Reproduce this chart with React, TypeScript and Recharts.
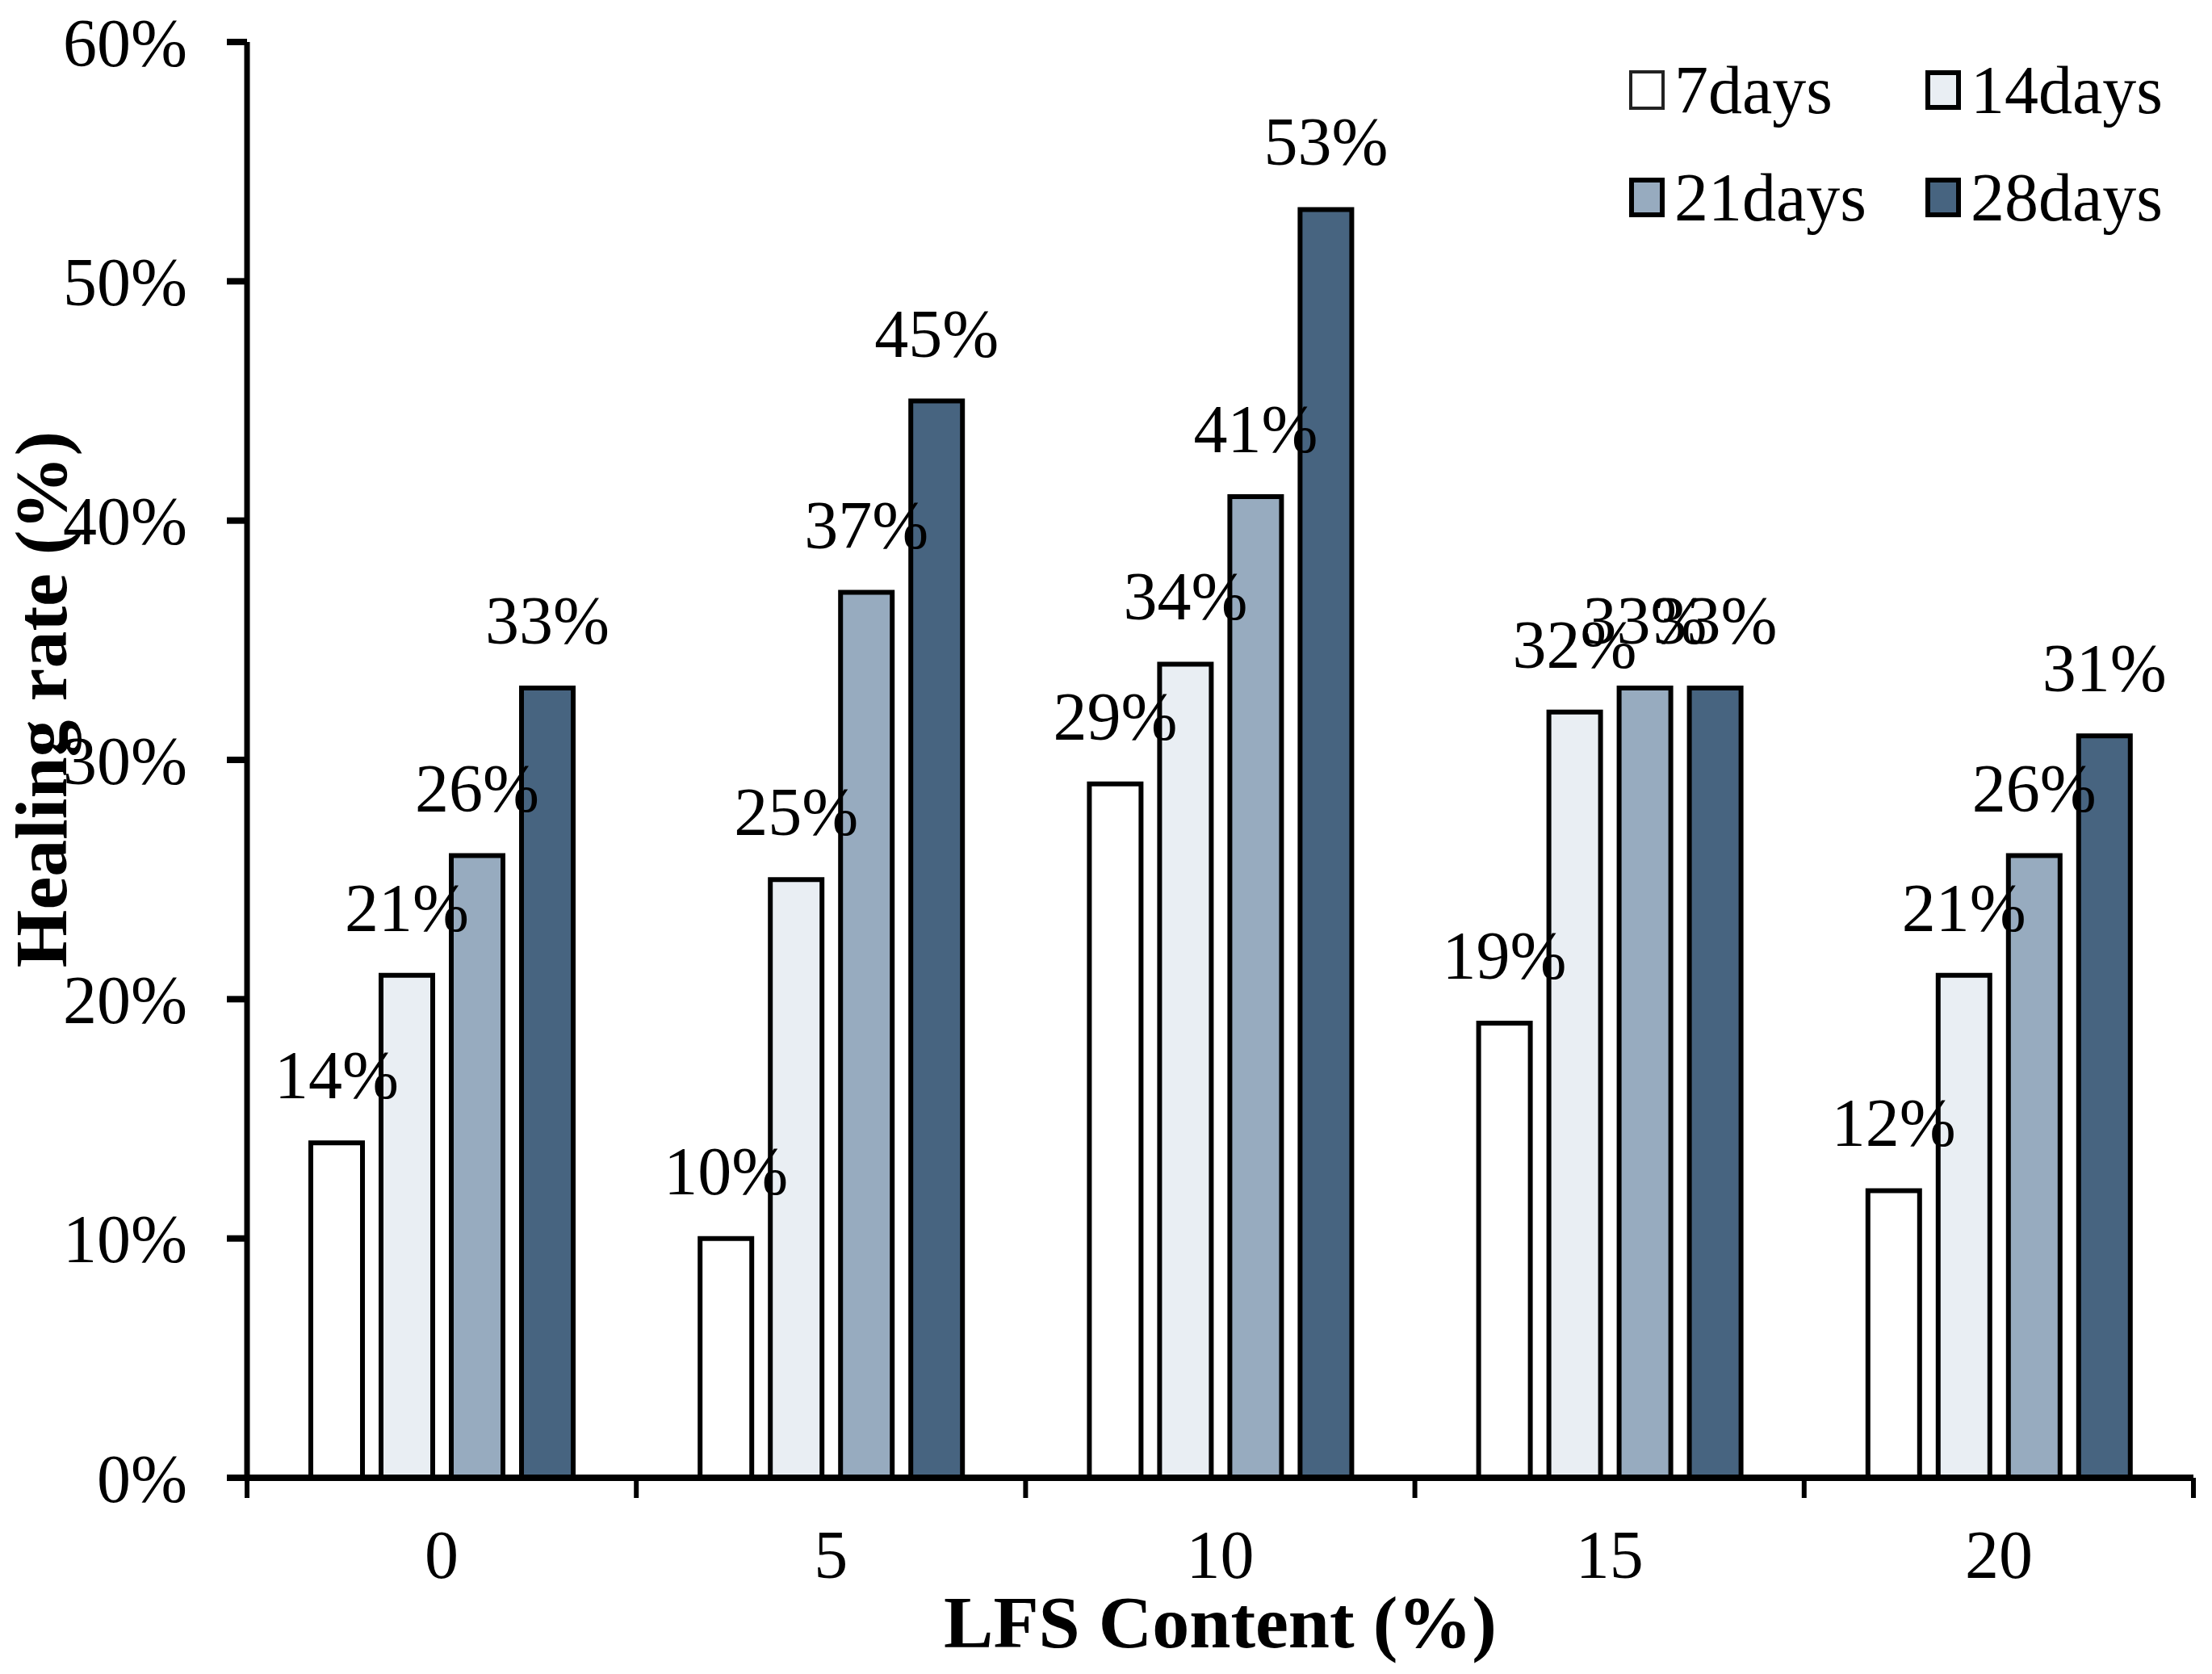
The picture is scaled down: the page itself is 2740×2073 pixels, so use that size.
import { BarChart, Bar, XAxis, YAxis, Legend, LabelList } from 'recharts'

const CATEGORIES = ['0', '5', '10', '15', '20']
const DAYS_7 = [0.14, 0.10, 0.29, 0.19, 0.12]
const DAYS_14 = [0.21, 0.25, 0.34, 0.32, 0.21]
const DAYS_21 = [0.26, 0.37, 0.41, 0.33, 0.26]
const DAYS_28 = [0.33, 0.45, 0.53, 0.33, 0.31]
const SERIES_KEYS = ['d7', 'd14', 'd21', 'd28']
const SERIES_NAMES = ['7days', '14days', '21days', '28days']
const SERIES_COLORS = ['#FFFFFF', '#E9EEF3', '#97ABBF', '#476480']
const Y_TICKS = [0, 0.1, 0.2, 0.3, 0.4, 0.5, 0.6]

const data = CATEGORIES.map((c, i) => ({
  content: c,
  d7: DAYS_7[i],
  d14: DAYS_14[i],
  d21: DAYS_21[i],
  d28: DAYS_28[i],
}))

const FONT = '"Liberation Serif", "Times New Roman", serif'
const pct = (v: number) => `${Math.round(v * 100)}%`

// category label in the middle of the band, tick marks on the band edges
function CategoryTick(props: any) {
  const { x, y, payload, index, visibleTicksCount } = props
  const half = payload?.offset ?? 0
  const last = index === (visibleTicksCount ?? CATEGORIES.length) - 1
  return (
    <g>
      <line x1={x - half} x2={x - half} y1={y} y2={y + 25} stroke="#000" strokeWidth={6} />
      {last && <line x1={x + half} x2={x + half} y1={y} y2={y + 25} stroke="#000" strokeWidth={6} />}
      <text x={x} y={y + 95} dy="0.35em" textAnchor="middle" fontSize={84} fontFamily={FONT} fill="#000">
        {payload.value}
      </text>
    </g>
  )
}

function YTitle(props: any) {
  const { viewBox } = props
  const cx = 50
  const cy = viewBox.y + viewBox.height / 2 - 75
  return (
    <text
      x={cx}
      y={cy}
      dy="0.35em"
      textAnchor="middle"
      fontSize={92}
      fontWeight="bold"
      fontFamily={FONT}
      transform={`rotate(-90, ${cx}, ${cy})`}
    >
      Healing rate (%)
    </text>
  )
}

function XTitle(props: any) {
  const { viewBox } = props
  return (
    <text
      x={viewBox.x + viewBox.width / 2}
      y={viewBox.y + 178}
      dy="0.35em"
      textAnchor="middle"
      fontSize={92}
      fontWeight="bold"
      fontFamily={FONT}
    >
      LFS Content (%)
    </text>
  )
}

function LegendBox() {
  return (
    <div
      style={{
        display: 'grid',
        gridTemplateColumns: '367px 330px',
        gridAutoRows: '133px',
        fontFamily: FONT,
        fontSize: 84,
      }}
    >
      {SERIES_NAMES.map((name, i) => (
        <div key={name} style={{ display: 'flex', alignItems: 'center' }}>
          <div
            style={{
              width: 44,
              height: 49,
              boxSizing: 'border-box',
              border: `${i === 0 ? 4 : 6}px solid ${i === 0 ? '#222' : '#000'}`,
              background: SERIES_COLORS[i],
              marginRight: 12,
            }}
          />
          <span style={{ lineHeight: 1 }}>{name}</span>
        </div>
      ))}
    </div>
  )
}

export default function App() {
  return (
    <div style={{ width: 2740, height: 2073, background: '#fff' }}>
      <style>{'body{margin:0}'}</style>
      <BarChart
        width={2740}
        height={2073}
        data={data}
        margin={{ top: 52, right: 23, left: 0, bottom: 0 }}
        barSize={64}
        barGap={23}
      >
        <XAxis
          dataKey="content"
          height={243}
          axisLine={{ stroke: '#000', strokeWidth: 8 }}
          tickLine={false}
          tickSize={0}
          tickMargin={0}
          tick={<CategoryTick />}
          interval={0}
          label={<XTitle />}
        />
        <XAxis
          xAxisId="top"
          dataKey="content"
          orientation="top"
          height={0}
          tick={false}
          tickLine={false}
          axisLine={{ stroke: '#000', strokeWidth: 8 }}
        />
        <YAxis
          width={306}
          domain={[0, 0.6]}
          ticks={Y_TICKS}
          tickFormatter={pct}
          axisLine={{ stroke: '#000', strokeWidth: 7 }}
          tickLine={{ stroke: '#000', strokeWidth: 8 }}
          tickSize={25}
          tickMargin={49}
          tick={{ fill: '#000', fontSize: 84, fontFamily: FONT }}
          label={<YTitle />}
        />
        <YAxis
          yAxisId="right"
          orientation="right"
          width={0}
          domain={[0, 0.6]}
          tick={false}
          tickLine={false}
          axisLine={{ stroke: '#000', strokeWidth: 7 }}
        />
        <Legend
          layout="vertical"
          align="center"
          verticalAlign="middle"
          content={<LegendBox />}
          wrapperStyle={{ left: 2018, top: 45, width: 700 }}
        />
        {SERIES_KEYS.map((k, i) => (
          <Bar
            key={k}
            dataKey={k}
            name={SERIES_NAMES[i]}
            fill={SERIES_COLORS[i]}
            stroke="#000"
            strokeWidth={6}
            isAnimationActive={false}
          >
            <LabelList
              dataKey={k}
              position="top"
              offset={55}
              formatter={pct}
              fill="#000"
              fontSize={84}
              fontFamily={FONT}
            />
          </Bar>
        ))}
      </BarChart>
    </div>
  )
}
